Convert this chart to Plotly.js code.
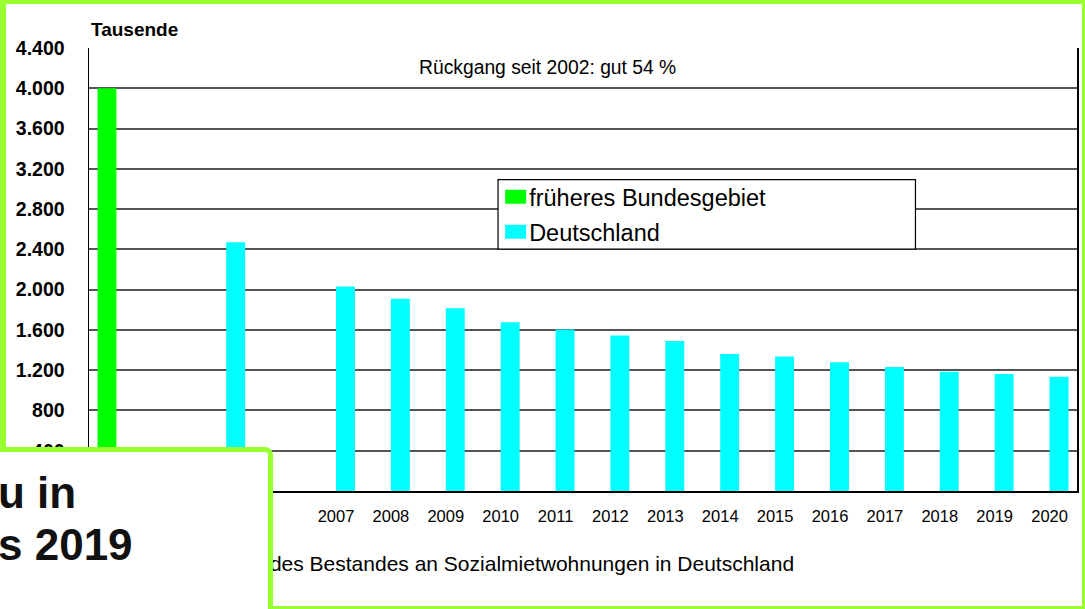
<!DOCTYPE html>
<html>
<head>
<meta charset="utf-8">
<script src="https://cdn.plot.ly/plotly-3.0.1.min.js"></script>
<style>
  html, body { margin: 0; padding: 0; background: #fff; }
  #wrap { position: relative; width: 1085px; height: 609px; overflow: hidden; }
  #chart { position: absolute; left: 0; top: 0; width: 1085px; height: 609px; }
  #frame { position: absolute; left: 0; top: 0; width: 1085px; height: 609px; box-sizing: border-box;
           border-style: solid; border-color: #99ff33; border-width: 4px 3px 3px 6px; pointer-events: none; z-index: 5; }
  #overlay { position: absolute; left: -20px; top: 447px; width: 293px; height: 220px; box-sizing: border-box;
             background: #fff; border: 5px solid #99ff33; border-top-right-radius: 8px; z-index: 10; }
  #overlay-text { position: absolute; left: -2px; top: 466.75px; z-index: 11;
                  font-family: "Liberation Sans", Arial, sans-serif; font-weight: bold; font-size: 44px;
                  line-height: 52px; color: #111; white-space: nowrap; }
</style>
</head>
<body>
<div id="wrap">
  <div id="chart"></div>
  <div id="frame"></div>
  <div id="overlay"></div>
  <div id="overlay-text">u in<br>s 2019</div>
</div>
<script>
// Categories on the x axis (blank entries are empty slots in the original chart)
const categories = ["1987", " ", "2002", "  ", "2007", "2008", "2009", "2010", "2011", "2012", "2013", "2014", "2015", "2016", "2017", "2018", "2019", "2020"];

// früheres Bundesgebiet (Tausende)
const westYears = ["1987"];
const westValues = [4000];

// Deutschland (Tausende)
const germanyYears = ["2002", "2007", "2008", "2009", "2010", "2011", "2012", "2013", "2014", "2015", "2016", "2017", "2018", "2019", "2020"];
const germanyValues = [2470, 2030, 1910, 1815, 1675, 1605, 1545, 1490, 1360, 1337, 1278, 1231, 1185, 1162, 1135];

const yTicks = [0, 400, 800, 1200, 1600, 2000, 2400, 2800, 3200, 3600, 4000, 4400];

const FONT = '"Liberation Sans", Arial, sans-serif';
const BAR_W = 0.345; // each series takes one half of the group slot

const traces = [
  { type: 'bar', name: 'früheres Bundesgebiet', x: westYears, y: westValues,
    width: BAR_W, offset: -BAR_W,
    marker: { color: '#00ff00' }, legendgroup: 'a', hoverinfo: 'x+y' },
  { type: 'bar', name: 'Deutschland', x: germanyYears, y: germanyValues,
    width: BAR_W, offset: 0,
    marker: { color: '#00ffff' }, legendgroup: 'b', hoverinfo: 'x+y' }
];

const layout = {
  width: 1085, height: 609,
  margin: { l: 89, r: 8, t: 48, b: 118, pad: 0 },
  paper_bgcolor: '#fff', plot_bgcolor: '#fff',
  separators: ',.',
  font: { family: FONT, color: '#000' },
  barmode: 'overlay',
  showlegend: true,
  legend: {
    x: 0.405, y: 0.7135, xanchor: 'left', yanchor: 'top',
    bgcolor: 'rgba(0,0,0,0)', borderwidth: 0,
    font: { family: FONT, size: 23.5, color: '#000' },
    traceorder: 'grouped', tracegroupgap: 1.45
  },
  xaxis: {
    type: 'category', categoryorder: 'array', categoryarray: categories,
    range: [-0.5, categories.length - 0.5],
    showline: true, linecolor: '#000', linewidth: 1.5, mirror: false,
    showgrid: false, ticks: '', zeroline: false, ticklabelstandoff: 10,
    tickfont: { family: FONT, size: 16.5, color: '#000' },
    fixedrange: true
  },
  yaxis: {
    range: [0, 4400], tickvals: yTicks, tickformat: ',d',
    showline: true, linecolor: '#000', linewidth: 1.5, mirror: true,
    showgrid: true, gridcolor: '#555', gridwidth: 2, zeroline: false,
    ticks: '', ticklabelstandoff: 19,
    tickfont: { family: FONT, size: 19.5, color: '#000', weight: 'bold' },
    fixedrange: true
  },
  shapes: [
    { type: 'rect', xref: 'paper', yref: 'paper', layer: 'above',
      x0: 0.414, x1: 0.8365, y0: 0.5459, y1: 0.7027,
      fillcolor: '#fff', line: { color: '#000', width: 1.2 } }
  ],
  annotations: [
    { text: 'Tausende', xref: 'paper', yref: 'paper', x: 0, y: 1.0422,
      xanchor: 'left', yanchor: 'middle', showarrow: false,
      font: { family: FONT, size: 19, color: '#000', weight: 'bold' } },
    { text: 'Rückgang seit 2002: gut 54 %', xref: 'paper', yref: 'paper', x: 0.464, y: 0.956,
      xanchor: 'center', yanchor: 'middle', showarrow: false,
      font: { family: FONT, size: 19.3, color: '#000' } },
    { text: 'Entwicklung des Bestandes an Sozialmietwohnungen in Deutschland', xref: 'paper', yref: 'paper',
      x: 0.7156, y: -0.1647, xanchor: 'right', yanchor: 'middle', showarrow: false,
      font: { family: FONT, size: 21, color: '#000' } }
  ]
};

Plotly.newPlot('chart', traces, layout, { staticPlot: true, displayModeBar: false }).then(function (gd) {
  // widen legend swatches to match the original rectangular markers
  gd.querySelectorAll('.legend .traces').forEach(function (tr) {
    var txt = tr.querySelector('text.legendtext');
    var p = tr.querySelector('path.legendbar') || tr.querySelector('.legendpoints path');
    if (!txt || !p) return;
    var tx = parseFloat(txt.getAttribute('x')) || 40;
    var m = /translate\(\s*([-\d.]+)/.exec(p.getAttribute('transform') || '');
    var ox = m ? parseFloat(m[1]) : 0;
    var right = tx - 3 - ox, left = right - 21;
    p.setAttribute('d', 'M' + right + ',7H' + left + 'V-7H' + right + 'Z');
  });
});
</script>
</body>
</html>
